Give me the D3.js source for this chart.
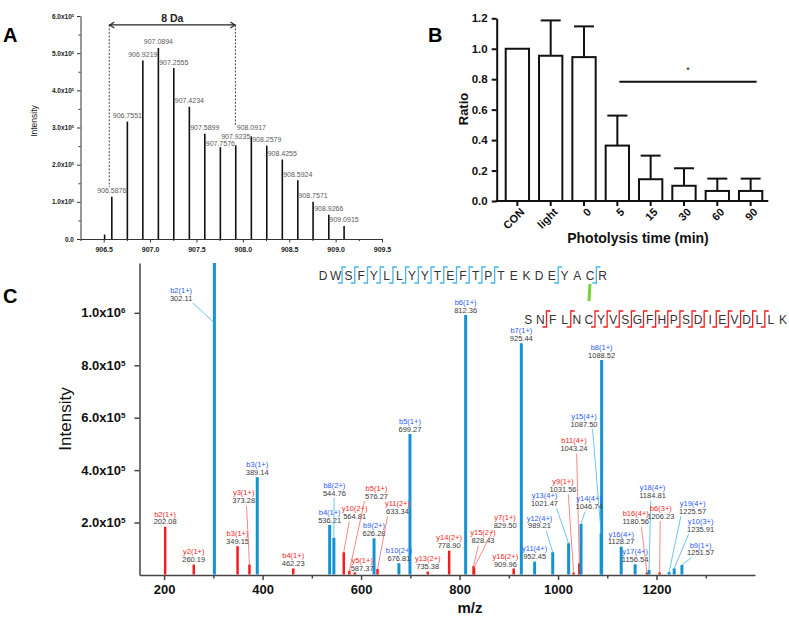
<!DOCTYPE html>
<html><head><meta charset="utf-8">
<script src="https://cdn.jsdelivr.net/npm/d3@7"></script>
<style>
body{margin:0;background:#fff;}
svg{font-family:"Liberation Sans",Arial,Helvetica,sans-serif;}
</style></head><body>
<svg id="fig" width="789" height="618"></svg>
<script>
// ---------------- Panel A data (isotope envelope, intensity x10^5) ----------------
const isoMz  = [906.51, 906.5876, 906.7551, 906.9219, 907.0894, 907.2555, 907.4234, 907.5899, 907.7576, 907.9235, 908.0917, 908.2579, 908.4255, 908.5924, 908.7571, 908.9266, 909.0915];
const isoInt = [0.12, 1.14, 3.16, 4.80, 5.14, 4.60, 3.56, 2.83, 2.47, 2.52, 2.76, 2.51, 2.14, 1.58, 1.00, 0.65, 0.35];
const isoLabel = ["", "906.5876", "906.7551", "906.9219", "907.0894", "907.2555", "907.4234", "907.5899", "907.7576", "907.9235", "908.0917", "908.2579", "908.4255", "908.5924", "908.7571", "908.9266", "909.0915"];
// label level (intensity units) where a label sits higher than the default, else null
const isoLabelAt = [null, null, null, null, null, null, null, null, 2.58, 2.76, 3.0, null, null, null, null, null, null];
const aXTicks = [906.5, 907.0, 907.5, 908.0, 908.5, 909.0, 909.5];
const aXMinor = [906.25, 906.75, 907.25, 907.75, 908.25, 908.75, 909.25];
const aYTicks = [0, 1, 2, 3, 4, 5, 6];
const aYMinor = [0.5, 1.5, 2.5, 3.5, 4.5, 5.5];
const bracketMz = [906.56, 907.92];
const bracketLow = [1.40, 3.05];
const bracketTop = 5.76;
const bracketText = "8 Da";

// ---------------- Panel B data ----------------
const bCats = ["CON", "light", "0", "5", "15", "30", "60", "90"];
const bMean = [1.0, 0.954, 0.945, 0.364, 0.143, 0.100, 0.066, 0.066];
const bErr  = [0, 0.232, 0.202, 0.197, 0.155, 0.115, 0.081, 0.081];
const bYTicks = [0, 0.2, 0.4, 0.6, 0.8, 1.0, 1.2];
const bSig = {from: "5", to: "90", level: 0.783, text: "*"};

// ---------------- Panel C data (MS/MS fragment ions) ----------------
const ionMz = [202.08, 260.19, 302.11, 349.15, 373.28, 389.14, 462.23, 536.21, 544.76, 564.81, 576.27, 587.37, 626.28, 633.34, 676.81, 699.27, 735.38, 778.90, 812.36, 828.43, 829.50, 909.96, 925.44, 952.45, 989.21, 1021.47, 1031.56, 1043.24, 1046.74, 1087.50, 1088.52, 1128.27, 1156.54, 1180.56, 1184.81, 1206.23, 1225.57, 1235.91, 1251.57];
const ionInt = [184000, 40000, 1500000, 110000, 40000, 373000, 25000, 191000, 142000, 87000, 16000, 10000, 140000, 23000, 45000, 538000, 13000, 93000, 992000, 34000, 28000, 25000, 884000, 51000, 87000, 121000, 9000, 45000, 195000, 159000, 820000, 108000, 41000, 10000, 19000, 10000, 11000, 25000, 38000];
const ionName = ["b2(1+)", "y2(1+)", "b2(1+)", "b3(1+)", "y3(1+)", "b3(1+)", "b4(1+)", "b4(1+)", "b8(2+)", "y10(2+)", "b5(1+)", "y5(1+)", "b9(2+)", "y11(2+)", "b10(2+)", "b5(1+)", "y13(2+)", "y14(2+)", "b6(1+)", "y15(2+)", "y7(1+)", "y16(2+)", "b7(1+)", "y11(4+)", "y12(4+)", "y13(4+)", "y9(1+)", "b11(4+)", "y14(4+)", "y15(4+)", "b8(1+)", "y16(4+)", "y17(4+)", "b16(4+)", "y18(4+)", "b6(3+)", "y19(4+)", "y10(3+)", "b9(1+)"];
const ionChain = ["beta", "beta", "alpha", "beta", "beta", "alpha", "beta", "alpha", "alpha", "beta", "beta", "beta", "alpha", "beta", "alpha", "alpha", "beta", "beta", "alpha", "beta", "beta", "beta", "alpha", "alpha", "alpha", "alpha", "beta", "beta", "alpha", "alpha", "alpha", "alpha", "alpha", "beta", "alpha", "beta", "alpha", "alpha", "alpha"];
// label anchor in data units [m/z, intensity, (leader target intensity)]; null = right above the peak
const ionLabelAt = [null, null, [234.6, 1056000, 961000], null, [361.5, 283600], null, null, null, [545.8, 313000], [587, 222500], [631.4, 301500], [602.2, 25600], null, [673.9, 241600], null, null, null, null, null, [847.7, 131000], [892.5, 190900], [893, 40800], null, null, [962.3, 188000], [972.5, 273700], [1010, 327000], [1032.4, 482000], [1063, 260700], [1052.7, 575000], null, null, null, [1157.8, 203400], [1191.9, 302700], [1208.8, 225000], [1273.3, 244000], [1289.6, 175600], [1289.6, 85000]];
const cXTicks = [200, 400, 600, 800, 1000, 1200];
const cXMinor = [300, 500, 700, 900, 1100, 1300];
const cYTicks = [200000, 400000, 600000, 800000, 1000000];
const alphaSeq = "DWSFYLLYYTEFTPTEKDEYACR";
const betaSeq  = "SNFLNCYVSGFHPSDIEVDLLK";
const alphaCleave = [1, 2, 3, 4, 5, 6, 7, 8, 9, 10, 11, 12, 13, 18, 21];
const betaCleave  = [1, 3, 5, 6, 7, 8, 9, 10, 11, 12, 13, 14, 15, 16, 17, 18, 19];
const crossLink = [21, 5];

// ---------------- styles ----------------
const COL = {alpha: "#1592d4", beta: "#f31d1d", alphaText: "#2c59f2", betaText: "#f42424",
             alphaLead: "#45b6ea", betaLead: "#f76a6a", num: "#3a3a3a", link: "#77d13a", pep: "#333"};

const svg = d3.select("#fig");

function sciText(sel, v, exp) {
  sel.each(function(d) {
    const t = d3.select(this); t.text(null);
    const val = v(d);
    if (val === 0) { t.text("0.0"); return; }
    const e = exp !== undefined ? exp : Math.floor(Math.log10(val));
    const m = exp !== undefined ? val : val / Math.pow(10, e);
    t.append("tspan").text(m.toFixed(1) + "x10");
    t.append("tspan").attr("dy", "-0.5em").attr("font-size", "0.62em").text(e);
  });
}

// ================= Panel A =================
(function() {
  const x = d3.scaleLinear().domain([906.25, 909.5]).range([80.5, 382]);
  const y = d3.scaleLinear().domain([0, 6]).range([239, 16]);
  const g = svg.append("g");
  const xa = g.append("g").attr("transform", "translate(0,239)")
    .call(d3.axisBottom(x).tickValues(aXTicks).tickFormat(d3.format(".1f")).tickSize(3.5).tickSizeOuter(0));
  xa.selectAll("text").attr("font-size", 7).attr("font-weight", "bold").attr("fill", "#222").attr("dy", "0.9em");
  g.append("g").attr("transform", "translate(0,239)")
    .call(d3.axisBottom(x).tickValues(aXMinor).tickFormat("").tickSize(2).tickSizeOuter(0))
    .select(".domain").remove();
  const ya = g.append("g").attr("transform", "translate(80.5,0)")
    .call(d3.axisLeft(y).tickValues(aYTicks).tickSize(3.5).tickSizeOuter(0));
  ya.selectAll("text").attr("font-size", 6.5).attr("font-weight", "bold").attr("fill", "#222").call(sciText, d => d, 5);
  g.append("g").attr("transform", "translate(80.5,0)")
    .call(d3.axisLeft(y).tickValues(aYMinor).tickFormat("").tickSize(2).tickSizeOuter(0))
    .select(".domain").remove();
  g.selectAll(".domain, .tick line").attr("stroke", "#333").attr("stroke-width", 1);

  g.append("text").attr("transform", "translate(37,121) rotate(-90)").attr("text-anchor", "middle")
    .attr("font-size", 8.5).attr("fill", "#222").text("Intensity");

  g.selectAll(".pk").data(isoMz).join("line").attr("class", "pk")
    .attr("x1", d => x(d)).attr("x2", d => x(d)).attr("y1", y(0))
    .attr("y2", (d, i) => y(isoInt[i])).attr("stroke", "#111").attr("stroke-width", 1.6);
  g.selectAll(".pl").data(isoMz).join("text").attr("class", "pl")
    .attr("x", d => x(d))
    .attr("y", (d, i) => isoLabelAt[i] !== null ? y(isoLabelAt[i]) + 2.5 : y(isoInt[i]) - 3.5)
    .attr("text-anchor", "middle").attr("font-size", 7).attr("fill", "#5a5a5a")
    .text((d, i) => isoLabel[i]);

  // 8 Da bracket
  bracketMz.forEach((m, i) => {
    g.append("line").attr("x1", x(m)).attr("x2", x(m)).attr("y1", y(bracketTop)).attr("y2", y(bracketLow[i]))
      .attr("stroke", "#333").attr("stroke-width", 0.9).attr("stroke-dasharray", "2,1.5");
  });
  const ay = y(bracketTop), x0 = x(bracketMz[0]), x1 = x(bracketMz[1]);
  g.append("line").attr("x1", x0).attr("x2", x1).attr("y1", ay).attr("y2", ay).attr("stroke", "#222").attr("stroke-width", 1.1);
  g.append("path").attr("d", `M${x0+5},${ay-3} L${x0+0.5},${ay} L${x0+5},${ay+3}`).attr("fill", "none").attr("stroke", "#222").attr("stroke-width", 1.1);
  g.append("path").attr("d", `M${x1-5},${ay-3} L${x1-0.5},${ay} L${x1-5},${ay+3}`).attr("fill", "none").attr("stroke", "#222").attr("stroke-width", 1.1);
  g.append("text").attr("x", (x0 + x1) / 2).attr("y", 21.5).attr("text-anchor", "middle")
    .attr("font-size", 10.5).attr("font-weight", "bold").attr("fill", "#222").text(bracketText);
  g.append("text").attr("x", 3).attr("y", 42).attr("font-size", 20).attr("font-weight", "bold").text("A");
})();

// ================= Panel B =================
(function() {
  const x = d3.scaleBand().domain(bCats).range([500.7, 767.3]).paddingInner(0.3).paddingOuter(0.15);
  const y = d3.scaleLinear().domain([0, 1.2]).range([201, 18.3]);
  const g = svg.append("g");
  const bw = x.bandwidth();
  const ya = g.append("g").attr("transform", "translate(496.7,0)")
    .call(d3.axisLeft(y).tickValues(bYTicks).tickFormat(d3.format(".1f")).tickSize(5).tickSizeOuter(0));
  ya.selectAll("text").attr("font-size", 11.5).attr("font-weight", "bold").attr("fill", "#111").attr("dx", "-1");
  ya.selectAll(".domain, .tick line").attr("stroke", "#111").attr("stroke-width", 2);
  g.append("line").attr("x1", 495.7).attr("x2", x.range()[1] + 1).attr("y1", y(0)).attr("y2", y(0))
    .attr("stroke", "#111").attr("stroke-width", 2);
  g.selectAll(".xt").data(bCats).join("line").attr("class", "xt")
    .attr("x1", d => x(d) + bw / 2).attr("x2", d => x(d) + bw / 2).attr("y1", y(0)).attr("y2", y(0) + 5)
    .attr("stroke", "#111").attr("stroke-width", 2);
  g.selectAll(".xl").data(bCats).join("text").attr("class", "xl")
    .attr("transform", d => `translate(${x(d) + bw / 2 + 5},${y(0) + 9}) rotate(-45)`)
    .attr("text-anchor", "end").attr("dy", "0.35em")
    .attr("font-size", 11).attr("font-weight", "bold").attr("fill", "#111").text(d => d);

  g.selectAll(".bar").data(bCats).join("rect").attr("class", "bar")
    .attr("x", d => x(d)).attr("width", bw)
    .attr("y", (d, i) => y(bMean[i])).attr("height", (d, i) => y(0) - y(bMean[i]))
    .attr("fill", "#fff").attr("stroke", "#111").attr("stroke-width", 2);
  bCats.forEach((c, i) => {
    if (bErr[i] <= 0) return;
    const cx = x(c) + bw / 2;
    g.append("line").attr("x1", cx).attr("x2", cx).attr("y1", y(bMean[i])).attr("y2", y(bMean[i] + bErr[i]))
      .attr("stroke", "#111").attr("stroke-width", 2);
    g.append("line").attr("x1", cx - 10).attr("x2", cx + 10).attr("y1", y(bMean[i] + bErr[i])).attr("y2", y(bMean[i] + bErr[i]))
      .attr("stroke", "#111").attr("stroke-width", 2);
  });
  const sx1 = x(bSig.from) + bw / 2 + 2, sx2 = x(bSig.to) + bw / 2 + 6;
  g.append("line").attr("x1", sx1).attr("x2", sx2).attr("y1", y(bSig.level)).attr("y2", y(bSig.level))
    .attr("stroke", "#111").attr("stroke-width", 2);
  g.append("text").attr("x", (sx1 + sx2) / 2).attr("y", y(bSig.level) - 9).attr("text-anchor", "middle")
    .attr("font-size", 9).attr("fill", "#111").text(bSig.text);

  g.append("text").attr("transform", "translate(468,109) rotate(-90)").attr("text-anchor", "middle")
    .attr("font-size", 13).attr("font-weight", "bold").attr("fill", "#111").text("Ratio");
  g.append("text").attr("x", 638).attr("y", 243).attr("text-anchor", "middle")
    .attr("font-size", 14).attr("font-weight", "bold").attr("fill", "#111").text("Photolysis time (min)");
  g.append("text").attr("x", 428).attr("y", 42).attr("font-size", 20).attr("font-weight", "bold").text("B");
})();

// ================= Panel C =================
(function() {
  const x = d3.scaleLinear().domain([150, 1400]).range([139.5, 755]);
  const y = d3.scaleLinear().domain([0, 1190000]).range([575, 263]).clamp(true);
  const g = svg.append("g");

  const xa = g.append("g").attr("transform", "translate(0,575)")
    .call(d3.axisBottom(x).tickValues(cXTicks).tickFormat(d3.format("d")).tickSize(5).tickSizeOuter(0));
  xa.selectAll("text").attr("font-size", 13).attr("font-weight", "bold").attr("fill", "#111").attr("dy", "0.82em");
  g.append("g").attr("transform", "translate(0,575)")
    .call(d3.axisBottom(x).tickValues(cXMinor).tickFormat("").tickSize(3.5).tickSizeOuter(0))
    .select(".domain").remove();
  const ya = g.append("g").attr("transform", "translate(139.5,0)")
    .call(d3.axisLeft(y).tickValues(cYTicks).tickSize(5).tickSizeOuter(0));
  ya.selectAll("text").attr("font-size", 13).attr("font-weight", "bold").attr("fill", "#111").attr("dx", "-6")
    .call(sciText, d => d);
  g.selectAll(".domain, .tick line").attr("stroke", "#444").attr("stroke-width", 1.5);

  g.append("text").attr("transform", "translate(71,419) rotate(-90)").attr("text-anchor", "middle")
    .attr("font-size", 17).attr("fill", "#111").text("Intensity");
  g.append("text").attr("x", 470).attr("y", 613).attr("text-anchor", "middle")
    .attr("font-size", 15).attr("font-weight", "bold").attr("fill", "#111").text("m/z");

  // peaks
  g.selectAll(".ion").data(ionMz).join("line").attr("class", "ion")
    .attr("x1", d => x(d)).attr("x2", d => x(d)).attr("y1", y(0) - 0.5)
    .attr("y2", (d, i) => y(ionInt[i]))
    .attr("stroke", (d, i) => COL[ionChain[i]])
    .attr("stroke-width", (d, i) => ionChain[i] === "alpha" ? 3 : 2.5);

  // labels + leaders
  ionMz.forEach((m, i) => {
    const bx = x(m), top = y(ionInt[i]);
    const a = ionLabelAt[i];
    let lx, ly;
    if (a) { lx = x(a[0]); ly = y(a[1]); } else { lx = bx; ly = top - 5; }
    const c = ionChain[i];
    if (a) {
      const sx = lx + Math.max(-12, Math.min(12, (bx - lx) * 0.5));
      const sy = ly + 5;
      const ty = a[2] !== undefined ? y(a[2]) : top;
      if (ty - sy > 4) {
        g.append("line").attr("x1", sx).attr("y1", sy).attr("x2", bx).attr("y2", ty)
          .attr("stroke", COL[c + "Lead"]).attr("stroke-width", 0.8);
      }
    }
    g.append("text").attr("x", lx).attr("y", ly - 7.8).attr("dy", "0.35em").attr("text-anchor", "middle")
      .attr("font-size", 7.5).attr("fill", COL[c + "Text"]).text(ionName[i]);
    g.append("text").attr("x", lx).attr("y", ly).attr("dy", "0.35em").attr("text-anchor", "middle")
      .attr("font-size", 7.5).attr("fill", COL.num).text(m.toFixed(2));
  });

  // peptide sequences
  const ax = d3.scaleLinear().domain([0, alphaSeq.length - 1]).range([323, 602.7]);
  const bxs = d3.scaleLinear().domain([0, betaSeq.length - 1]).range([528.3, 783]);
  const aY = 276, bY = 320;
  const pep = g.append("g").attr("font-size", 12).attr("fill", COL.pep).attr("text-anchor", "middle");
  alphaSeq.split("").forEach((ch, i) => pep.append("text").attr("x", ax(i)).attr("y", aY).attr("dy", "0.36em").text(ch));
  betaSeq.split("").forEach((ch, i) => pep.append("text").attr("x", bxs(i)).attr("y", bY).attr("dy", "0.36em").text(ch));
  function mark(xm, yc, col) {
    g.append("path").attr("d", `M${xm + 4},${yc - 9} L${xm},${yc - 9} L${xm},${yc + 7} L${xm - 4},${yc + 7}`)
      .attr("fill", "none").attr("stroke", col).attr("stroke-width", 1.3);
  }
  alphaCleave.forEach(k => mark((ax(k) + ax(k + 1)) / 2, aY, COL.alphaLead));
  betaCleave.forEach(k => mark((bxs(k) + bxs(k + 1)) / 2, bY, COL.beta));
  g.append("line").attr("x1", ax(crossLink[0])).attr("x2", bxs(crossLink[1]))
    .attr("y1", aY + 8).attr("y2", bY - 19).attr("stroke", COL.link).attr("stroke-width", 3);

  g.append("text").attr("x", 3).attr("y", 303).attr("font-size", 20).attr("font-weight", "bold").text("C");
})();
</script>
</body></html>
